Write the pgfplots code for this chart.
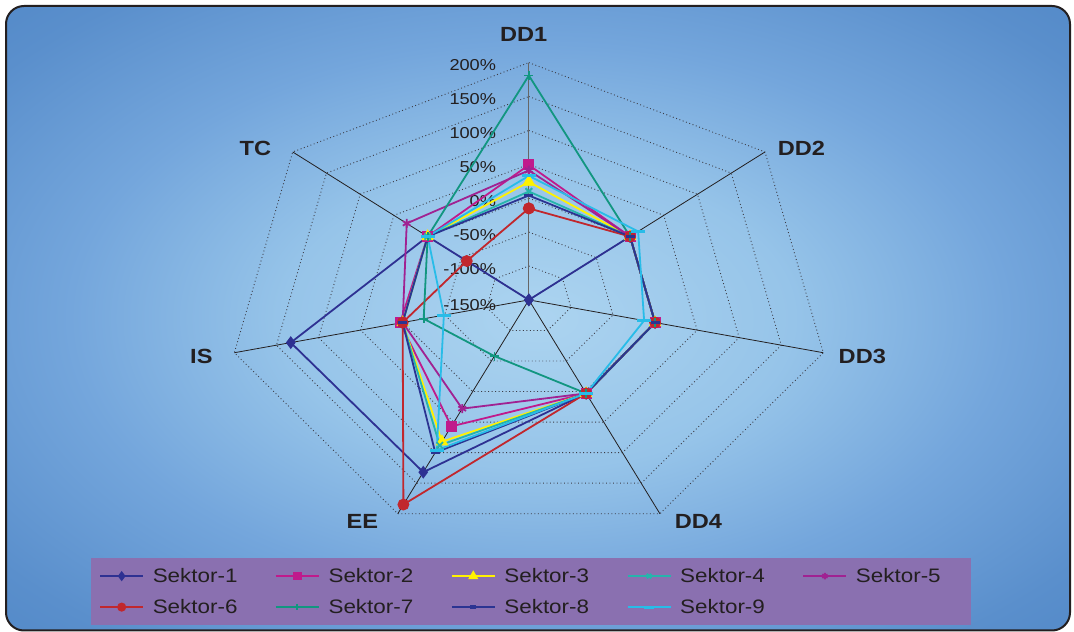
\documentclass[border=0pt]{standalone}
\usepackage{fontspec}
\setmainfont{Liberation Sans}[FakeStretch=1.15]
\usepackage{pgfplots}
\usepackage{pgfplotstable}
\pgfplotsset{compat=1.18}

% series colours
\definecolor{cS1}{RGB}{46,49,146}
\definecolor{cS2}{RGB}{192,26,140}
\definecolor{cS3}{RGB}{255,242,0}
\definecolor{cS4}{RGB}{38,180,172}
\definecolor{cS5}{RGB}{160,34,146}
\definecolor{cS6}{RGB}{193,39,45}
\definecolor{cS7}{RGB}{18,150,128}
\definecolor{cS8}{RGB}{43,52,146}
\definecolor{cS9}{RGB}{40,188,232}
% frame, background and text
\definecolor{txt}{RGB}{35,31,32}
\definecolor{legbg}{RGB}{138,112,176}
\definecolor{ringc}{RGB}{60,60,70}
\definecolor{bgA}{RGB}{172,212,240}
\definecolor{bgB}{RGB}{150,196,233}
\definecolor{bgC}{RGB}{116,166,220}
\definecolor{bgD}{RGB}{90,143,204}
\definecolor{bgE}{RGB}{74,130,195}

\pgfdeclareradialshading{chartbg}{\pgfpoint{0bp}{0bp}}{%
  color(0bp)=(bgA); color(12bp)=(bgB); color(22bp)=(bgC);
  color(32bp)=(bgD); color(42bp)=(bgE); color(50bp)=(bgE)}

% one row per spoke: unit direction (u,v) and the value of each sector in %
% the first spoke is repeated at the end to close the polygons
\pgfplotstableread{
dim u         v         s1   s2  s3  s4  s5  s6   s7   s8   s9
DD1 0         1         -150 49  24  10  41  -15  181  4    33
DD2 0.781831  0.623490  0    0   0   0   0   0    0    0    12
DD3 0.974928  -0.222521 0    0   0   0   0   0    0    0    -13
DD4 0.433884  -0.900969 3    3   3   3   3   3    3    3    3
EE  -0.433884 -0.900969 132  57  82  88  28  185  -58  100  96
IS  -0.974928 -0.222521 133  3   0   0   0   0    -25  0    -49
TC  -0.781831 0.623490  0    0   0   0   31  -58  0    0    0
DD1 0         1         -150 49  24  10  41  -15  181  4    33
}\radar

% radius = value + 150 (the centre of the chart is -150 %)
\newcommand{\radarplot}[3]{%
  \addplot[#2] table[x expr={(\thisrow{#1}+150)*\thisrow{u}},
                     y expr={(\thisrow{#1}+150)*\thisrow{v}}] {\radar};
  \addlegendentry{#3}}

\tikzset{
  ring/.style={line width=0.9pt, color=ringc, dash pattern=on 0.9pt off 2.6pt},
  spoke/.style={line width=0.8pt, color=txt},
  ser/.style={line width=1.8pt, color=#1, mark options={solid, draw=#1, fill=#1}},
}

\begin{document}
\begin{tikzpicture}[x=1pt,y=1pt]
\useasboundingbox (0,0) rectangle (1074,632);
\shade[shading=chartbg, rounded corners=18pt] (6,1.5) rectangle (1070,626);
\draw[line width=2pt, color=txt, rounded corners=18pt] (6,1.5) rectangle (1070,626);

\begin{axis}[
  at={(212.8,89.8)}, anchor=south west,
  x=0.863pt, y=0.678pt,
  xmin=-400, xmax=400, ymin=-400, ymax=400,
  hide axis, clip=false,
  legend columns=5,
  legend cell align=left,
  legend image code/.code={%
    \draw[mark repeat=2, mark phase=2, #1, line width=2pt,
          /tikz/every mark/.append style={scale=0.7}]
      plot coordinates {(0pt,0pt) (21.5pt,0pt) (43pt,0pt)};},
  legend style={
    at={(-0.1351,0.02434)}, anchor=north west,
    draw=none, fill=legbg,
    inner xsep=8.6pt, inner ysep=9.5pt,
    font=\fontsize{19.5}{21}\selectfont, text=txt,
    column sep=8.6pt, row sep=14pt,
    nodes={inner sep=0pt, text height=15pt, text depth=2pt,
           text width=106pt, align=left},
    /tikz/every even column/.append style={column sep=16.2pt},
  },
]
% dotted rings every 50 %
\pgfplotsinvokeforeach{50,100,150,200,250,300,350}{
  \addplot[ring, forget plot] table[x expr={#1*\thisrow{u}},
                                    y expr={#1*\thisrow{v}}] {\radar};
}
% spokes
\addplot[spoke, forget plot] coordinates {(0,0) (273.641,218.222)};
\addplot[spoke, forget plot] coordinates {(0,0) (341.225,-77.882)};
\addplot[spoke, forget plot] coordinates {(0,0) (151.859,-315.339)};
\addplot[spoke, forget plot] coordinates {(0,0) (-151.859,-315.339)};
\addplot[spoke, forget plot] coordinates {(0,0) (-341.225,-77.882)};
\addplot[spoke, forget plot] coordinates {(0,0) (-273.641,218.222)};
\addplot[line width=1.2pt, color=black!60, forget plot] coordinates {(0,0) (0,350)};

% value labels along the DD1 spoke
\begin{scope}[every node/.style={anchor=east, text=txt,
      font=\fontsize{15.8}{16}\selectfont}]
\node at (axis cs:-34,346) {200\%};
\node at (axis cs:-34,296) {150\%};
\node at (axis cs:-34,246) {100\%};
\node at (axis cs:-34,196) {50\%};
\node at (axis cs:-34,146) {0\%};
\node at (axis cs:-34,96) {-50\%};
\node at (axis cs:-34,46) {-100\%};
\node at (axis cs:-34,-7) {-150\%};
\end{scope}

% spoke labels
\begin{scope}[every node/.style={text=txt,
      font=\fontsize{20.5}{22}\selectfont\bfseries}]
\node at (axis cs:-6,390.9) {DD1};
\node at (axis cs:315.8,224.2) {DD2};
\node at (axis cs:386.4,-84.1) {DD3};
\node at (axis cs:196.4,-327.4) {DD4};
\node at (axis cs:-192.9,-327.4) {EE};
\node at (axis cs:-379.5,-84.1) {IS};
\node at (axis cs:-316.9,222.7) {TC};
\end{scope}

\radarplot{s1}{ser=cS1, mark=diamond*, mark size=5pt}{Sektor-1}
\radarplot{s2}{ser=cS2, mark=square*, mark size=4.6pt}{Sektor-2}
\radarplot{s3}{ser=cS3, mark=triangle*, mark size=5.5pt}{Sektor-3}
\radarplot{s4}{ser=cS4, mark=x, mark size=4.5pt}{Sektor-4}
\radarplot{s5}{ser=cS5, mark=asterisk, mark size=4.5pt}{Sektor-5}
\radarplot{s6}{ser=cS6, mark=*, mark size=5pt}{Sektor-6}
\radarplot{s7}{ser=cS7, mark=+, mark size=4.5pt}{Sektor-7}
\radarplot{s8}{ser=cS8, mark=-, mark size=4.5pt, mark options={line width=3.6pt}}{Sektor-8}
\radarplot{s9}{ser=cS9, mark=-, mark size=7pt, mark options={line width=3pt}}{Sektor-9}
\end{axis}
\end{tikzpicture}
\end{document}
